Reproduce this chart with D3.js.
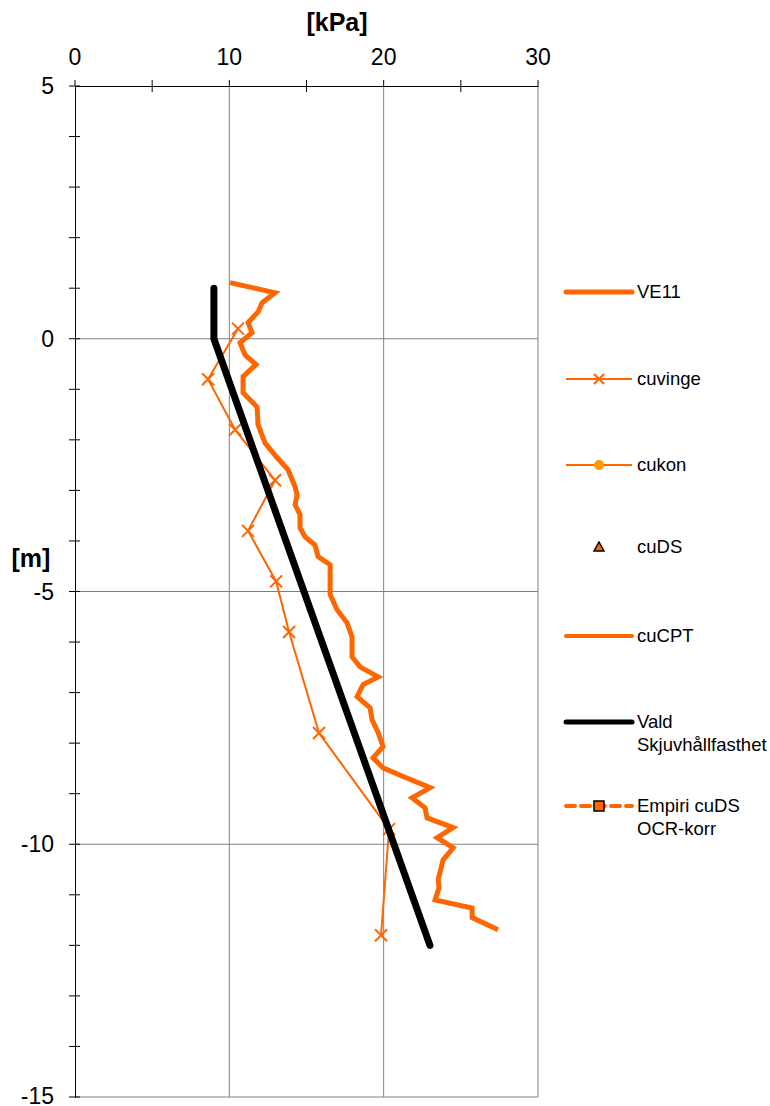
<!DOCTYPE html>
<html><head><meta charset="utf-8">
<script src="https://cdn.jsdelivr.net/npm/d3@7"></script>
<style>body{margin:0;background:#fff}svg{display:block}text{font-family:"Liberation Sans",Arial,sans-serif}</style>
</head><body>
<script>
// VE11 (cuCPT-type thick line): [kPa, depth m]
const ve11 = [[10.05,1.11],[12.96,0.91],[12.12,0.71],[11.86,0.53],[11.21,0.32],[11.47,0.12],[10.69,-0.08],[11.02,-0.32],[11.73,-0.51],[10.89,-0.75],[10.89,-1.07],[11.80,-1.35],[11.86,-1.70],[12.31,-2.06],[13.09,-2.35],[13.80,-2.59],[14.26,-2.93],[14.39,-3.09],[14.26,-3.28],[14.58,-3.48],[14.58,-3.74],[14.91,-3.92],[15.55,-4.08],[15.75,-4.31],[16.53,-4.47],[16.53,-4.71],[16.53,-5.06],[16.98,-5.36],[17.63,-5.62],[17.95,-5.90],[17.95,-6.29],[18.47,-6.49],[19.64,-6.69],[18.67,-6.84],[18.28,-7.08],[19.12,-7.30],[19.25,-7.54],[19.64,-7.79],[19.96,-8.07],[19.31,-8.29],[19.96,-8.49],[21.26,-8.66],[23.01,-8.88],[21.84,-9.08],[22.68,-9.28],[22.81,-9.48],[24.50,-9.67],[23.46,-9.87],[24.50,-10.07],[23.85,-10.31],[23.53,-10.70],[23.59,-10.86],[23.33,-11.10],[25.73,-11.26],[25.73,-11.45],[27.41,-11.69]];
const cuvinge = [[10.56,0.2],[8.62,-0.8],[10.37,-1.8],[12.96,-2.8],[11.21,-3.8],[13.03,-4.8],[13.87,-5.8],[15.81,-7.8],[20.35,-9.7],[19.83,-11.8]];
const vald = [[9,1],[9,0],[23,-12]];
const xTicks = [0,10,20,30];
const yTicks = [5,0,-5,-10,-15];
const legendItems = ["VE11","cuvinge","cukon","cuDS","cuCPT","Vald|Skjuvhållfasthet","Empiri cuDS|OCR-korr"];

const W=770,H=1106;
const svg=d3.select("body").append("svg").attr("width",W).attr("height",H);
const x=d3.scaleLinear().domain([0,30]).range([75,538]);
const y=d3.scaleLinear().domain([5,-15]).range([86,1097]);
const orange="#FF6600";

// gridlines
const g=svg.append("g");
g.selectAll(".gv").data([10,20,30]).join("line").attr("x1",d=>x(d)).attr("x2",d=>x(d)).attr("y1",y(5)).attr("y2",y(-15)).attr("stroke","#808080").attr("stroke-width",1);
g.selectAll(".gh").data([0,-5,-10,-15]).join("line").attr("x1",x(0)).attr("x2",x(30)).attr("y1",d=>y(d)).attr("y2",d=>y(d)).attr("stroke","#808080").attr("stroke-width",1);

// axes
const xAxis=d3.axisTop(x).tickValues(d3.range(0,31,5)).tickSize(0).tickFormat("");
const ax=svg.append("g").attr("transform",`translate(0,${y(5)})`).call(xAxis);
ax.select(".domain").attr("stroke","#000");
svg.append("g").selectAll("line").data(d3.range(0,31,5)).join("line")
  .attr("x1",d=>x(d)).attr("x2",d=>x(d)).attr("y1",y(5)-6).attr("y2",d=>d%10===0?y(5):y(5)+6).attr("stroke","#000");
svg.append("g").selectAll("text").data(xTicks).join("text").attr("x",d=>x(d)).attr("y",65).attr("text-anchor","middle").attr("font-size",23).text(d=>d);

const yAxis=d3.axisLeft(y).tickValues(d3.range(-15,6,1)).tickSize(0).tickFormat("");
const ay=svg.append("g").attr("transform",`translate(${x(0)},0)`).call(yAxis);
ay.select(".domain").attr("stroke","#000");
svg.append("g").selectAll("line").data(d3.range(-15,6,1)).join("line")
  .attr("x1",x(0)-6).attr("x2",x(0)+5).attr("y1",d=>y(d)).attr("y2",d=>y(d)).attr("stroke","#000");
svg.append("g").selectAll("text").data(yTicks).join("text").attr("x",54).attr("y",d=>Math.min(y(d)+8,1104)).attr("text-anchor","end").attr("font-size",23).text(d=>d);

svg.append("text").attr("x",337).attr("y",31).attr("text-anchor","middle").attr("font-size",25).attr("font-weight","bold").text("[kPa]");
svg.append("text").attr("x",31).attr("y",567).attr("text-anchor","middle").attr("font-size",25).attr("font-weight","bold").text("[m]");

const line=d3.line().x(d=>x(d[0])).y(d=>y(d[1]));
svg.append("path").datum(ve11).attr("d",line).attr("fill","none").attr("stroke",orange).attr("stroke-width",5).attr("stroke-linejoin","miter");
svg.append("path").datum(cuvinge).attr("d",line).attr("fill","none").attr("stroke",orange).attr("stroke-width",2);
const cross=(sel,s)=>sel.append("path").attr("d",`M${-s},${-s}L${s},${s}M${-s},${s}L${s},${-s}`).attr("stroke",orange).attr("stroke-width",2).attr("fill","none");
svg.append("g").selectAll("g").data(cuvinge).join("g").attr("transform",d=>`translate(${x(d[0])},${y(d[1])})`).each(function(){cross(d3.select(this),6);});
svg.append("path").datum(vald).attr("d",line).attr("fill","none").attr("stroke","#000").attr("stroke-width",7).attr("stroke-linecap","round").attr("stroke-linejoin","round");

// legend
const ly=[292,379,465,547,636,722,806];
const lg=svg.append("g");
legendItems.forEach((name,i)=>{
  const cy=ly[i];
  const x1=566,x2=632,xm=(x1+x2)/2;
  if(i===0) lg.append("line").attr("x1",x1).attr("x2",x2).attr("y1",cy).attr("y2",cy).attr("stroke",orange).attr("stroke-width",5).attr("stroke-linecap","round");
  if(i===1){lg.append("line").attr("x1",x1).attr("x2",x2).attr("y1",cy).attr("y2",cy).attr("stroke",orange).attr("stroke-width",2);
    cross(lg.append("g").attr("transform",`translate(${xm},${cy})`),5);}
  if(i===2){lg.append("line").attr("x1",x1).attr("x2",x2).attr("y1",cy).attr("y2",cy).attr("stroke",orange).attr("stroke-width",2);
    lg.append("circle").attr("cx",xm).attr("cy",cy).attr("r",5).attr("fill","#FF9900");}
  if(i===3) lg.append("path").attr("d",`M${xm},${cy-5}L${xm+5},${cy+4}L${xm-5},${cy+4}Z`).attr("fill",orange).attr("stroke","#000").attr("stroke-width",1.5);
  if(i===4) lg.append("line").attr("x1",x1).attr("x2",x2).attr("y1",cy).attr("y2",cy).attr("stroke",orange).attr("stroke-width",4).attr("stroke-linecap","round");
  if(i===5) lg.append("line").attr("x1",x1).attr("x2",x2).attr("y1",cy).attr("y2",cy).attr("stroke","#000").attr("stroke-width",5).attr("stroke-linecap","round");
  if(i===6){lg.append("line").attr("x1",x1).attr("x2",x2).attr("y1",cy).attr("y2",cy).attr("stroke",orange).attr("stroke-width",4).attr("stroke-dasharray","9,6").attr("stroke-linecap","round");
    lg.append("rect").attr("x",xm-5).attr("y",cy-5).attr("width",10).attr("height",10).attr("fill",orange).attr("stroke","#000").attr("stroke-width",1.5);}
  const parts=name.split("|");
  parts.forEach((p,j)=>lg.append("text").attr("x",637).attr("y",cy+6+j*23).attr("font-size",18.5).text(p));
});
</script>
</body></html>
